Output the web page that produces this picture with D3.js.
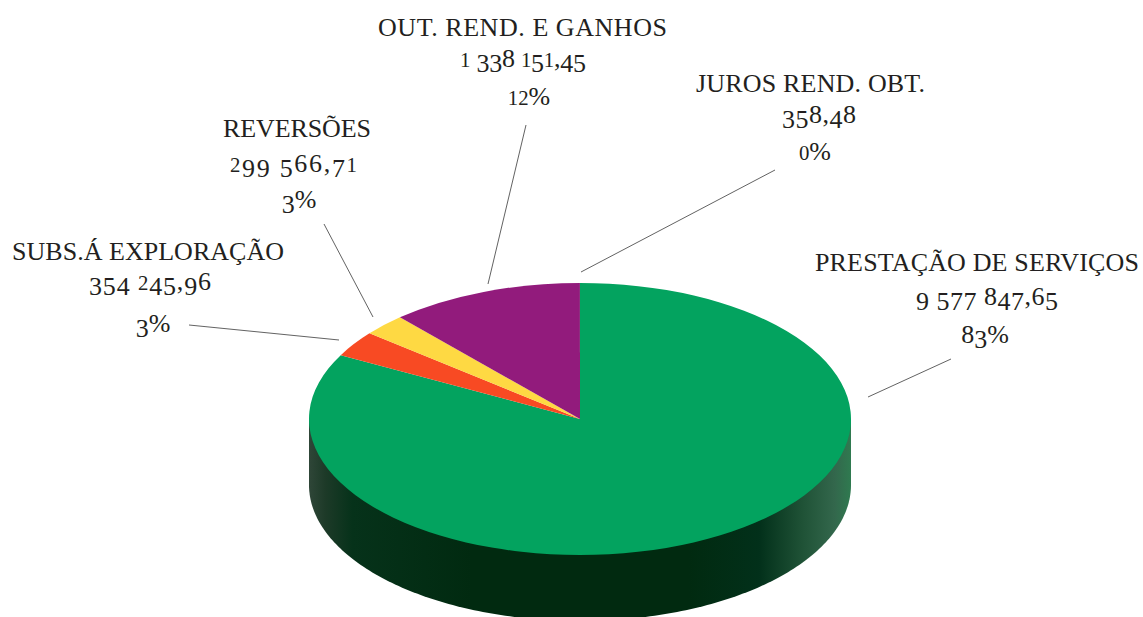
<!DOCTYPE html>
<html><head><meta charset="utf-8">
<script src="https://cdn.jsdelivr.net/npm/d3@7"></script>
<style>html,body{margin:0;padding:0;background:#fff;overflow:hidden}
text{font-family:"Liberation Serif",serif;fill:#231f20;text-anchor:middle}</style></head>
<body><svg id="c" width="1143" height="617"></svg>
<script>
const categories=["PRESTAÇÃO DE SERVIÇOS","SUBS.Á EXPLORAÇÃO","REVERSÕES","OUT. REND. E GANHOS","JUROS REND. OBT."];
const values=[9577847.65,354245.96,299566.71,1338151.45,358.48];
const valueLabels=["9 577 847,65","354 245,96","299 566,71","1 338 151,45","358,48"];
const percentLabels=["83%","3%","3%","12%","0%"];
const colors=["#03a35f","#f84a23","#fed943","#921b7c","#03a35f"];

// layout (not data)
const cx=580,cy=419,rx=271,ry=136,depth=66;
const titlePos=[[977,271,324],[148,260,272],[297,137,148],[522.5,36,289],[810.5,92,229]];
const valuePos=[[987,305,142],[150,290,122],[293.5,172,127],[523,67,126],[819,123,74]];
const pctPos=[[985,343],[153,332],[299,208],[529,105],[815,160]];
const leaders=[[951,359,868,397],[189,325,339,340],[324,224,373,317],[526,125,488,284],[775,170,581,272]];

const svg=d3.select("#c");
const defs=svg.append("defs");
const grad=defs.append("linearGradient").attr("id","side").attr("gradientUnits","userSpaceOnUse")
  .attr("x1",cx-rx).attr("x2",cx+rx).attr("y1",0).attr("y2",0);
[[0,"#2f4638"],[0.03,"#1d3a28"],[0.08,"#06321a"],[0.3,"#012a10"],[0.7,"#012a10"],[0.83,"#02301a"],[0.91,"#1f5236"],[0.97,"#33674c"],[1,"#2f7a50"]]
 .forEach(s=>grad.append("stop").attr("offset",s[0]).attr("stop-color",s[1]));

const wall=d3.path();
wall.moveTo(cx-rx,cy);
wall.lineTo(cx-rx,cy+depth);
d3.range(0,181).forEach(a=>{const t=Math.PI-a*Math.PI/180;wall.lineTo(cx+rx*Math.cos(t),cy+depth+ry*Math.sin(t));});
wall.lineTo(cx+rx,cy);
wall.closePath();
svg.append("path").attr("d",wall.toString()).attr("fill","url(#side)");

const pie=d3.pie().sort(null).value(d=>d)(values);
const arc=d3.arc().innerRadius(0).outerRadius(rx);
svg.append("g").attr("transform",`translate(${cx},${cy}) scale(1,${ry/rx})`)
  .selectAll("path").data(pie).join("path").attr("d",arc).attr("fill",(d,i)=>colors[i]);

svg.append("g").selectAll("line").data(leaders).join("line")
  .attr("x1",d=>d[0]).attr("y1",d=>d[1]).attr("x2",d=>d[2]).attr("y2",d=>d[3])
  .attr("stroke","#3a3a3a").attr("stroke-width",0.8);

// old-style numerals: low digits shrink to x-height, descending digits drop below the baseline
const small="012",desc="34579";
function oldStyle(sel,str,size){
  let shift=0;
  for(const ch of str){
    const target=desc.includes(ch)?5:0;
    sel.append("tspan").attr("dy",target-shift)
      .attr("font-size",small.includes(ch)?size*0.8:size).text(ch);
    shift=target;
  }
}
const g=svg.append("g").selectAll("g").data(categories).join("g");
g.append("text").attr("x",(d,i)=>titlePos[i][0]).attr("y",(d,i)=>titlePos[i][1]).attr("font-size",26)
 .attr("textLength",(d,i)=>titlePos[i][2]).attr("lengthAdjust","spacing").text(d=>d);
g.append("text").attr("x",(d,i)=>valuePos[i][0]).attr("y",(d,i)=>valuePos[i][1]).attr("font-size",26)
 .attr("textLength",(d,i)=>valuePos[i][2]).attr("lengthAdjust","spacing")
 .each(function(d,i){oldStyle(d3.select(this),valueLabels[i],26);});
g.append("text").attr("x",(d,i)=>pctPos[i][0]).attr("y",(d,i)=>pctPos[i][1]).attr("font-size",26)
 .each(function(d,i){oldStyle(d3.select(this),percentLabels[i],26);});
</script></body></html>
